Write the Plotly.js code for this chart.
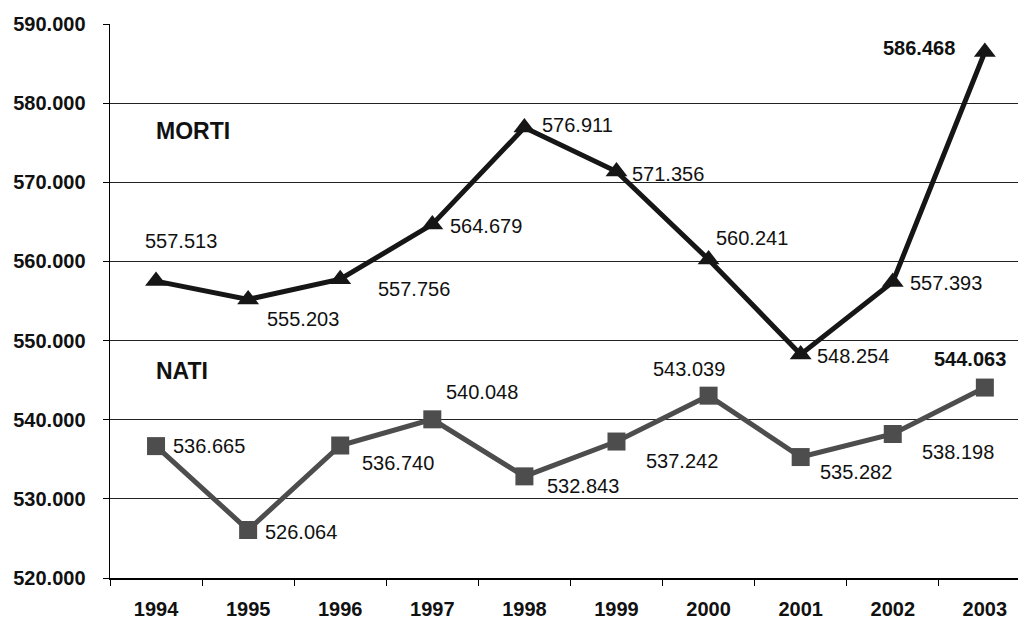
<!DOCTYPE html>
<html>
<head>
<meta charset="utf-8">
<script src="https://cdn.plot.ly/plotly-3.0.1.min.js"></script>
<style>html,body{margin:0;padding:0;background:#fff;}#chart{width:1018px;height:618px;}</style>
</head>
<body>
<div id="chart"></div>
<script>
const years = ['1994','1995','1996','1997','1998','1999','2000','2001','2002','2003'];
const morti = [557513, 555203, 557756, 564679, 576911, 571356, 560241, 548254, 557393, 586468];
const nati  = [536665, 526064, 536740, 540048, 532843, 537242, 543039, 535282, 538198, 544063];
const yTicks = [520000, 530000, 540000, 550000, 560000, 570000, 580000, 590000];

// label placement (pixel shifts relative to each point)
const mortiShift = [[25,40],[55,-20],[74,-10],[54,-2],[53,3],[52,-2],[43,22],[52,-2],[53,-1],[-66,4]];
const natiShift  = [[53,0],[53,-2],[58,-17],[50,27],[59,-10],[66,-19],[-20,27],[55,-15],[65,-18],[-15,29]];

function fmt(v){ return String(v).replace(/\B(?=(\d{3})+(?!\d))/g,'.'); }

const FF = 'Liberation Sans, Arial, sans-serif';
const annotations = [];
function addLabels(vals, shifts){
  vals.forEach((v,i)=>{
    const last = i === vals.length-1;
    annotations.push({x: i, y: v, xref:'x', yref:'y', text: last ? '<b>'+fmt(v)+'</b>' : fmt(v),
      showarrow:false, xshift: shifts[i][0], yshift: shifts[i][1],
      font:{family:FF, size:20, color:'#111'}});
  });
}
addLabels(morti, mortiShift);
addLabels(nati, natiShift);
annotations.push({xref:'paper', yref:'paper', x:0.049, y:0.807, xanchor:'left', yanchor:'middle', text:'<b>MORTI</b>', showarrow:false, font:{family:FF, size:23, color:'#111'}});
annotations.push({xref:'paper', yref:'paper', x:0.049, y:0.373, xanchor:'left', yanchor:'middle', text:'<b>NATI</b>', showarrow:false, font:{family:FF, size:23, color:'#111'}});

const traces = [
  {x: years, y: nati, type:'scatter', mode:'lines+markers', name:'NATI', cliponaxis:false,
   line:{color:'#4d4d4d', width:5}, marker:{symbol:'square', size:18, color:'#4d4d4d'}},
  {x: years, y: morti, type:'scatter', mode:'lines+markers', name:'MORTI', cliponaxis:false,
   line:{color:'#161616', width:5}, marker:{symbol:'triangle-up', size:19, color:'#161616'}}
];

const layout = {
  width:1018, height:618,
  margin:{l:110, r:0, t:24, b:40},
  paper_bgcolor:'#fff', plot_bgcolor:'#fff',
  showlegend:false,
  separators:',.',
  font:{family:FF, color:'#111'},
  xaxis:{type:'category', range:[-0.5, 9.36], tickson:'boundaries', ticks:'outside', ticklen:6, tickcolor:'#000',
    showline:true, linecolor:'#000', linewidth:1.5, showgrid:false, zeroline:false,
    tickfont:{family:FF, size:20, color:'#111', weight:'bold'}, ticklabelstandoff:12},
  yaxis:{range:[520000, 590000], tickvals:yTicks, tickformat:',d', ticks:'outside', ticklen:6, tickcolor:'#000',
    showline:true, linecolor:'#000', linewidth:1.5, showgrid:true, gridcolor:'#222', gridwidth:1, zeroline:false,
    tickfont:{family:FF, size:20, color:'#111', weight:'bold'}, ticklabelstandoff:13},
  annotations: annotations
};
Plotly.newPlot('chart', traces, layout, {displayModeBar:false, staticPlot:true});
</script>
</body>
</html>
